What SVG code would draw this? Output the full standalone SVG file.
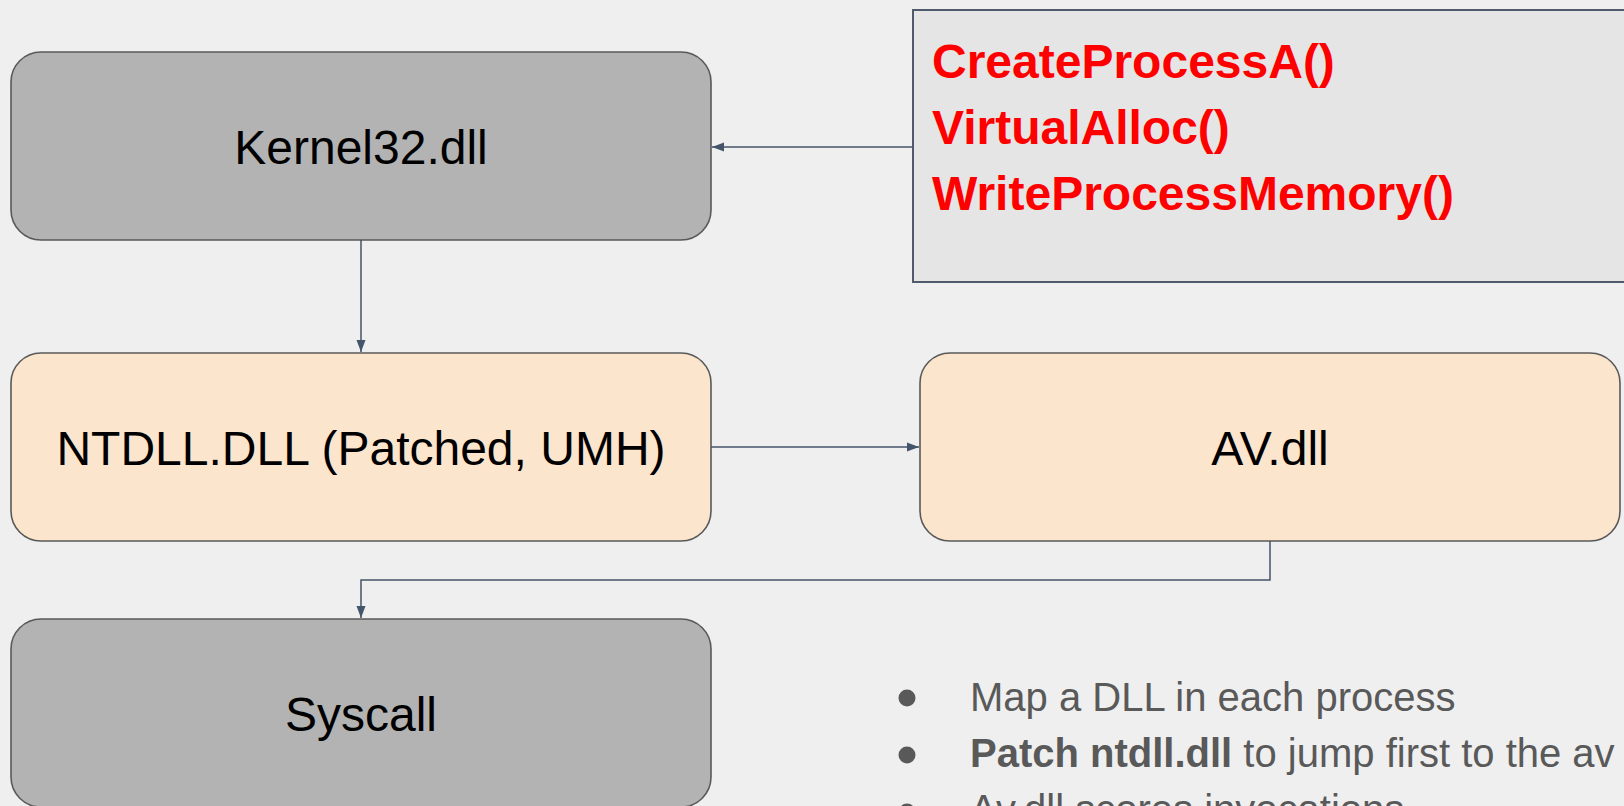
<svg xmlns="http://www.w3.org/2000/svg" width="1624" height="806" viewBox="0 0 1624 806">
  <style>
    .box { stroke: #595959; stroke-width: 1.6; }
    .grey { fill: #b3b3b3; }
    .peach { fill: #fce5cd; }
    .label { font-family: "Liberation Sans", Arial, sans-serif; font-size: 48px; fill: #000000; text-anchor: middle; }
    .api { font-family: "Liberation Sans", Arial, sans-serif; font-size: 48px; font-weight: bold; fill: #ff0000; }
    .note { font-family: "Liberation Sans", Arial, sans-serif; font-size: 40px; fill: #595959; }
    .wire { fill: none; stroke: #44546a; stroke-width: 1.5; }
  </style>
  <defs>
    <marker id="arrow" viewBox="0 0 12 10" refX="12" refY="5" markerWidth="12" markerHeight="10" markerUnits="userSpaceOnUse" orient="auto">
      <path d="M0,0.5 L12,5 L0,9.5 z" fill="#44546a"/>
    </marker>
  </defs>

  <rect width="1624" height="806" fill="#efefef"/>

  <g id="kernel32">
    <rect class="box grey" x="11" y="52" width="700" height="188" rx="30" ry="30"/>
    <text class="label" x="361" y="164">Kernel32.dll</text>
  </g>

  <g id="api-calls">
    <rect x="913" y="10" width="730" height="272" fill="#e5e5e5" stroke="#4f5b6d" stroke-width="2"/>
    <text class="api" x="932" y="78">CreateProcessA()</text>
    <text class="api" x="932" y="144">VirtualAlloc()</text>
    <text class="api" x="932" y="210">WriteProcessMemory()</text>
  </g>

  <g id="ntdll">
    <rect class="box peach" x="11" y="353" width="700" height="188" rx="30" ry="30"/>
    <text class="label" x="361" y="465">NTDLL.DLL (Patched, UMH)</text>
  </g>

  <g id="avdll">
    <rect class="box peach" x="920" y="353" width="700" height="188" rx="30" ry="30"/>
    <text class="label" x="1270" y="465">AV.dll</text>
  </g>

  <g id="syscall">
    <rect class="box grey" x="11" y="619" width="700" height="188" rx="30" ry="30"/>
    <text class="label" x="361" y="731">Syscall</text>
  </g>

  <g id="connectors">
    <path class="wire" d="M913,147 H712" marker-end="url(#arrow)"/>
    <path class="wire" d="M361,240 V352" marker-end="url(#arrow)"/>
    <path class="wire" d="M711,447 H919" marker-end="url(#arrow)"/>
    <path class="wire" d="M1270,541 V580 H361 V618" marker-end="url(#arrow)"/>
  </g>

  <g id="notes">
    <circle cx="907" cy="698" r="8.5" fill="#595959"/>
    <text class="note" x="970" y="711">Map a DLL in each process</text>
    <circle cx="907" cy="755" r="8.5" fill="#595959"/>
    <text class="note" x="970" y="767"><tspan font-weight="bold">Patch ntdll.dll</tspan> to jump first to the av</text>
    <circle cx="907" cy="812" r="8.5" fill="#595959"/>
    <text class="note" x="970" y="823">Av.dll scores invocations</text>
  </g>
</svg>
